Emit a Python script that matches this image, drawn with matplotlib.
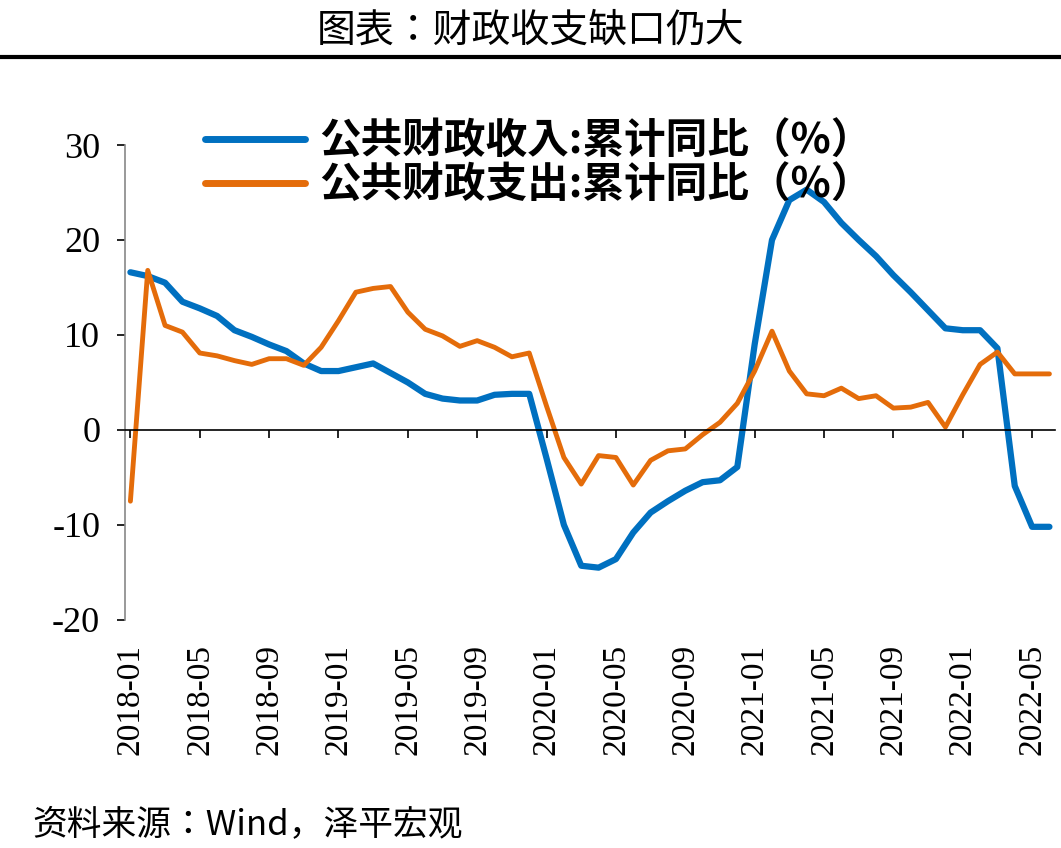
import matplotlib
matplotlib.use("Agg")
import matplotlib.pyplot as plt
import matplotlib.transforms as mtrans
from matplotlib import font_manager as fm
import pandas as pd

months = pd.period_range("2018-01", "2022-06", freq="M").strftime("%Y-%m").tolist()
revenue = [16.6,16.2,15.5,13.5,12.8,12.0,10.5,9.8,9.0,8.3,7.0,6.2,
           6.2,6.6,7.0,6.0,5.0,3.8,3.3,3.1,3.1,3.7,3.8,3.8,
           -3.0,-10.0,-14.3,-14.5,-13.6,-10.8,-8.7,-7.5,-6.4,-5.5,-5.3,-3.9,
           9.0,20.0,24.2,25.3,24.0,21.8,20.0,18.3,16.3,14.5,12.6,10.7,
           10.5,10.5,8.6,-5.9,-10.2,-10.2]
expenditure = [-7.5,16.8,11.0,10.3,8.1,7.8,7.3,6.9,7.5,7.5,6.8,8.7,
               11.5,14.5,14.9,15.1,12.4,10.6,9.9,8.8,9.4,8.7,7.7,8.1,
               2.5,-2.9,-5.7,-2.7,-2.9,-5.8,-3.2,-2.2,-2.0,-0.5,0.8,2.8,
               6.2,10.4,6.2,3.8,3.6,4.4,3.3,3.6,2.3,2.4,2.9,0.3,
               3.7,6.9,8.2,5.9,5.9,5.9]
labels = ["公共财政收入:累计同比（%）", "公共财政支出:累计同比（%）"]
title = "图表：财政收支缺口仍大"
source = "资料来源：Wind，泽平宏观"

names = {f.name for f in fm.fontManager.ttflist}
cjk_name = next((n for n in ["Noto Sans CJK SC", "Noto Sans CJK JP", "Noto Sans CJK TC",
                             "Noto Sans CJK KR", "Noto Serif CJK SC"] if n in names), None)
if cjk_name is None:
    cands = [f for f in fm.fontManager.ttflist if "CJK" in f.name or "CJK" in f.fname]
    cjk_name = cands[0].name if cands else "DejaVu Sans"
cjk = fm.FontProperties(family=cjk_name)
num = "Liberation Serif"

fig = plt.figure(figsize=(10.61, 8.48), dpi=100)
ax = fig.add_axes([0.118, 0.269, 0.876, 0.56])
x = list(range(len(months)))
ax.plot(x, revenue, color="#0070C0", lw=4.5, label=labels[0], solid_capstyle="round", solid_joinstyle="round")
ax.plot(x, expenditure, color="#E46C0A", lw=3.5, label=labels[1], solid_capstyle="round", solid_joinstyle="round")
ax.set_ylim(-20, 30)
ax.set_xlim(-0.3, len(months) - 0.7)
ax.set_yticks([-20, -10, 0, 10, 20, 30])
ax.set_yticklabels(["-20", "-10", "0", "10", "20", "30"], fontfamily=num, fontsize=26)
ax.tick_params(axis="y", length=6, direction="out", width=1.2, pad=12)
for s in ["top", "right"]:
    ax.spines[s].set_visible(False)
ax.spines["left"].set_linewidth(1.2)
ax.spines["left"].set_color("#888888")
ax.spines["bottom"].set_position(("data", 0))
ax.spines["bottom"].set_linewidth(1.2)
ax.set_xticks(x[::4])
ax.set_xticklabels([])
ax.tick_params(axis="x", length=6, direction="out", width=1.2)
tr = mtrans.blended_transform_factory(ax.transData, ax.transAxes)
for i in x[::4]:
    ax.text(i, -0.05, months[i], transform=tr, rotation=90, ha="center", va="top",
            fontfamily=num, fontsize=24)
lp = cjk.copy(); lp.set_size(30); lp.set_weight("bold")
leg = ax.legend(loc="upper left", bbox_to_anchor=(0.045, 1.13), frameon=False,
                prop=lp, handlelength=2.4, handletextpad=0.35, labelspacing=0.05)
for h in leg.get_lines():
    h.set_linewidth(5)
tp = cjk.copy(); tp.set_size(28)
fig.text(0.5, 0.964, title, ha="center", va="center", fontproperties=tp)
fig.add_artist(plt.Line2D([0, 1], [0.933, 0.933], color="black", lw=3, transform=fig.transFigure))
sp = cjk.copy(); sp.set_size(25); sp.set_style("italic")
fig.text(0.03, 0.027, source, ha="left", va="center", fontproperties=sp)
fig.savefig("out.png", dpi=100)
